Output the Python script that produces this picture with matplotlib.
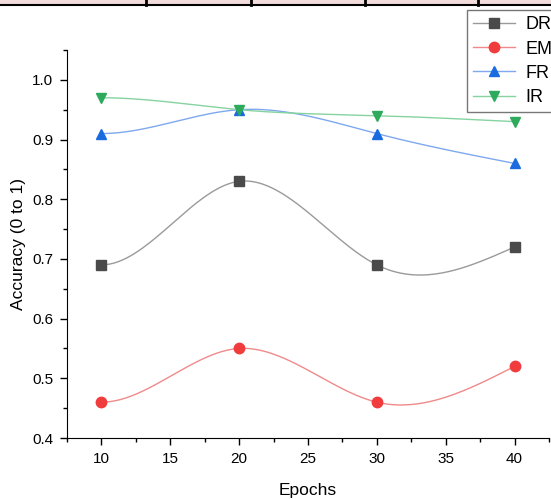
import numpy as np
import matplotlib
matplotlib.use("Agg")
import matplotlib.pyplot as plt
from matplotlib.patches import Rectangle
from matplotlib.lines import Line2D

plt.rcParams['font.family'] = ['Liberation Sans', 'DejaVu Sans']

# data
epochs = [10, 20, 30, 40]
series_names = ["DR", "EM", "FR", "IR"]
dr_acc = [0.69, 0.83, 0.69, 0.72]
em_acc = [0.46, 0.55, 0.46, 0.52]
fr_acc = [0.91, 0.95, 0.91, 0.86]
ir_acc = [0.97, 0.95, 0.94, 0.93]


def spline_curve(x, y, start_slope=0.0, n=200):
    """ Cubic spline through the points: clamped slope at the start, natural at the end. """
    x = np.asarray(x, float)
    y = np.asarray(y, float)
    k = len(x)
    h = np.diff(x)
    A = np.zeros((k, k))
    b = np.zeros(k)
    A[0, 0] = 2 * h[0]
    A[0, 1] = h[0]
    b[0] = 6 * ((y[1] - y[0]) / h[0] - start_slope)
    A[-1, -1] = 1
    for i in range(1, k - 1):
        A[i, i - 1] = h[i - 1]
        A[i, i] = 2 * (h[i - 1] + h[i])
        A[i, i + 1] = h[i]
        b[i] = 6 * ((y[i + 1] - y[i]) / h[i] - (y[i] - y[i - 1]) / h[i - 1])
    M = np.linalg.solve(A, b)
    xs = np.linspace(x[0], x[-1], n)
    idx = np.clip(np.searchsorted(x, xs) - 1, 0, k - 2)
    x0, x1 = x[idx], x[idx + 1]
    hh = x1 - x0
    t0 = x1 - xs
    t1 = xs - x0
    ys = (M[idx] * t0 ** 3 + M[idx + 1] * t1 ** 3) / (6 * hh) \
        + (y[idx] / hh - M[idx] * hh / 6) * t0 \
        + (y[idx + 1] / hh - M[idx + 1] * hh / 6) * t1
    return xs, ys


fig = plt.figure(figsize=(5.51, 4.99), dpi=100)
ax = fig.add_axes([67 / 551, 1 - 438 / 499, 482 / 551, 388 / 499])

# pink strip with cell borders at the top (cropped table above the chart)
fig.patches.append(Rectangle((0, 1 - 5 / 499), 1, 5 / 499, transform=fig.transFigure,
                             facecolor='#f2dcdb', edgecolor='none'))
fig.lines.append(Line2D([0, 1], [1 - 5 / 499] * 2, transform=fig.transFigure,
                        color='black', lw=1.5))
for px in [146, 251, 365, 478]:
    fig.lines.append(Line2D([px / 551] * 2, [1 - 5 / 499, 1], transform=fig.transFigure,
                            color='black', lw=2))

styles = [
    ("DR", dr_acc, '#4a4a4a', '#9a9a9a', 's'),
    ("EM", em_acc, '#f03c3c', '#f08a8a', 'o'),
    ("FR", fr_acc, '#1a6be0', '#7fa8ee', '^'),
    ("IR", ir_acc, '#2eaa5c', '#86d3a0', 'v'),
]

handles = []
for name, vals, mcol, lcol, mk in styles:
    xs, ys = spline_curve(epochs, vals)
    ax.plot(xs, ys, color=lcol, lw=1.0, zorder=2)
    ax.plot(epochs, vals, linestyle='none', marker=mk, color=mcol, markersize=7.5, zorder=3)
    handles.append(Line2D([], [], color=lcol, lw=1.0, marker=mk, markerfacecolor=mcol,
                          markeredgecolor=mcol, markersize=7.5, label=name))

ax.set_xlim(7.5, 42.5)
ax.set_ylim(0.4, 1.05)
ax.set_xticks([10, 15, 20, 25, 30, 35, 40])
ax.set_xticks(np.arange(7.5, 43, 2.5), minor=True)
ax.set_yticks([0.4, 0.5, 0.6, 0.7, 0.8, 0.9, 1.0])
ax.set_yticks(np.arange(0.4, 1.06, 0.05), minor=True)
ax.tick_params(which='major', direction='out', length=5, width=1, labelsize=11, pad=5)
ax.tick_params(which='minor', direction='out', length=3, width=1)
ax.spines['top'].set_visible(False)
ax.spines['right'].set_visible(False)

ax.set_xlabel("Epochs", fontsize=12.5, labelpad=12)
ax.set_ylabel("Accuracy (0 to 1)", fontsize=12.5, labelpad=4)

leg = fig.legend(handles=handles, loc='upper left',
                 bbox_to_anchor=(467 / 551, 1 - 10 / 499), fontsize=13,
                 frameon=True, fancybox=False, edgecolor='#555555',
                 handlelength=2.3, handletextpad=0.6, labelspacing=0.4,
                 borderpad=0.35, borderaxespad=0)
leg.get_frame().set_linewidth(1.0)

fig.savefig("out.png", dpi=100)
